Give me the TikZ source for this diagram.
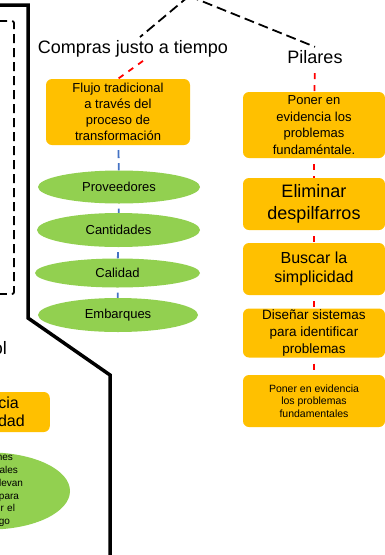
\documentclass[tikz,border=0pt]{standalone}
\usepackage{fontspec}
\setmainfont{Liberation Sans}
\usetikzlibrary{positioning,shapes.geometric,calc}
\definecolor{boxorange}{RGB}{255,192,0}
\definecolor{ovalgreen}{RGB}{146,208,80}
\definecolor{linkblue}{RGB}{68,114,196}
\tikzset{
  orangebox/.style={fill=boxorange, rounded corners=6pt, minimum width=142pt, align=center, inner sep=2pt},
  greenoval/.style={ellipse, fill=ovalgreen, inner sep=0pt, font=\fontsize{13}{15}\selectfont},
  reddash/.style={red, line width=1.8pt, dash pattern=on 6pt off 6pt, dash phase=6pt},
  bluedash/.style={linkblue, line width=1.8pt, dash pattern=on 8pt off 5pt, dash phase=8pt},
  blackdash/.style={black, line width=1.8pt, dash pattern=on 10pt off 5pt}
}

\begin{document}
\begin{tikzpicture}[x=1pt,y=-1pt]
    \useasboundingbox (0,0) rectangle (385,555);
    \clip (0,0) rectangle (385,555);

    % Draw left frame
    \draw[line width=3.5pt] (0,5) -- (28,5) -- (28,318) -- (110,375) -- (110,560);
    \draw[line width=1.8pt, dash pattern=on 9pt off 5pt, rounded corners=2pt] (-40,21) rectangle (14,294);

    % Draw titles
    \node (compras) at (133,49) {\fontsize{18}{20}\selectfont Compras justo a tiempo};
    \node (pilares) at (315,57) {\fontsize{18}{20}\selectfont Pilares};
    \coordinate (apex) at (189,-4);
    \draw[blackdash] (apex) -- ([xshift=7pt]compras.north);
    \draw[blackdash] (apex) -- (pilares.north);

    % Draw left column
    \node[orangebox, minimum width=144pt, minimum height=66pt, font=\fontsize{13}{16}\selectfont] (flujo) at (118,112) {Flujo tradicional\\a través del\\proceso de\\transformación};
    \node[greenoval, minimum width=162pt, minimum height=33pt] (prov) at (119,187) {Proveedores};
    \node[greenoval, minimum width=163pt, minimum height=34pt] (cant) at (118.5,230) {Cantidades};
    \node[greenoval, minimum width=165pt, minimum height=29pt] (cali) at (117.5,273) {Calidad};
    \node[greenoval, minimum width=160pt, minimum height=34pt] (emba) at (118,315) {Embarques};
    \draw[reddash, dash phase=0pt] ([xshift=10pt]compras.south) -- (flujo.north);
    \draw[bluedash] (flujo) -- (prov);
    \draw[bluedash] (prov) -- (cant);
    \draw[bluedash] (cant) -- (cali);
    \draw[bluedash] (cali) -- (emba);

    % Draw pillars
    \node[orangebox, minimum height=66pt, font=\fontsize{13}{16.5}\selectfont] (p1) at (314,125) {Poner en\\evidencia los\\problemas\\fundaméntale.};
    \node[orangebox, minimum height=52pt, font=\fontsize{18}{21.5}\selectfont] (p2) at (314,204) {Eliminar\\despilfarros};
    \node[orangebox, minimum height=52pt, font=\fontsize{16}{18.5}\selectfont] (p3) at (314,269) {Buscar la\\simplicidad};
    \node[orangebox, minimum height=49pt, inner ysep=0pt, font=\fontsize{13.5}{17}\selectfont] (p4) at (314,333) {Diseñar sistemas\\para identificar\\problemas};
    \node[orangebox, minimum height=52pt, font=\fontsize{10.5}{12.7}\selectfont] (p5) at (314,401) {Poner en evidencia\\los problemas\\fundamentales};
    \draw[reddash] (pilares) -- (p1);
    \draw[reddash] (p1) -- (p2);
    \draw[reddash] (p2) -- (p3);
    \draw[reddash] (p3) -- (p4);
    \draw[reddash] (p4) -- (p5);

    % Draw bottom left
    \node[anchor=east, inner sep=0pt, font=\fontsize{18}{20}\selectfont] (control) at (7,348) {ol};
    \node[fill=boxorange, rounded corners=6pt, anchor=east, minimum height=40pt, text width=100pt, inner xsep=25pt, align=right, font=\fontsize{16}{18}\selectfont] (calidadbox) at (50,412) {cia\hspace*{6pt}\mbox{}\\idad};
    \node[greenoval, minimum width=160pt, minimum height=77pt] (leftoval) at (-10,491) {};
    \node[align=right, text width=66pt, inner sep=0pt, font=\fontsize{10}{12.8}\selectfont] (leftovaltext) at (leftoval.center) {nes\hspace*{10pt}\mbox{}\\ales\hspace*{5pt}\mbox{}\\levan\\para\hspace*{4pt}\mbox{}\\r el\hspace*{8pt}\mbox{}\\go\hspace*{13pt}\mbox{}};
\end{tikzpicture}
\end{document}
